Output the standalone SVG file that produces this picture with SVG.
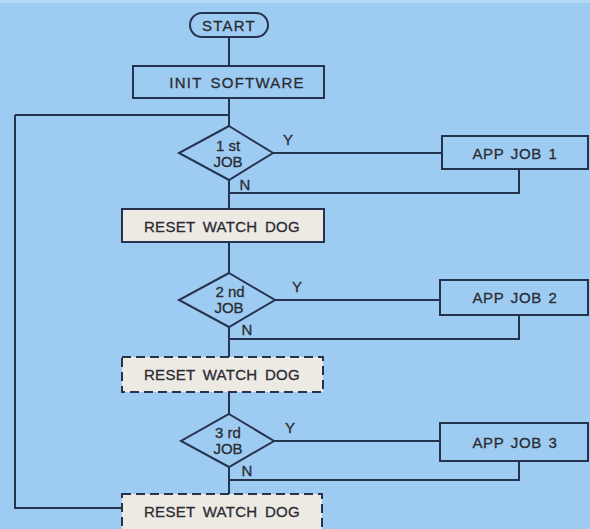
<svg xmlns="http://www.w3.org/2000/svg" width="590" height="529" viewBox="0 0 590 529">
<style>
.ln{fill:none;stroke:#26334f;stroke-width:2}
.box{fill:#9ecbf1;stroke:#26334f;stroke-width:2}
.rst{fill:#ede9e3;stroke:#26334f;stroke-width:2}
.dash{stroke-dasharray:9,5}
.t{font-family:"Liberation Sans",Arial,sans-serif;font-size:15px;fill:#2a2c33;stroke:#2a2c33;stroke-width:0.3;text-anchor:middle;letter-spacing:1.2px;word-spacing:3px}
.r{letter-spacing:0.3px;word-spacing:3px}
.a{letter-spacing:0.6px;word-spacing:2px}
.lb{font-family:"Liberation Sans",Arial,sans-serif;font-size:15px;fill:#2a2c33;stroke:#2a2c33;stroke-width:0.3;text-anchor:middle}
</style>
<rect x="0" y="0" width="590" height="529" fill="#9ecbf1"/>
<rect x="0" y="0" width="590" height="3" fill="#b4d7f4"/>
<g id="connectors">
<path class="ln" d="M229 37V66M229 98V126M15 115H229M15 115V508H122"/>
<path class="ln" d="M273 153H442M519 169V193H229M229 180V209"/>
<path class="ln" d="M229 242V273M275 300H440M519 315V339H229M229 327V357"/>
<path class="ln" d="M229 392V414M274 441H440M519 461V480H229M229 467V494"/>
</g>
<g id="start"><rect x="190" y="13" width="78" height="24" rx="12" class="box"/><text x="229" y="31" class="t">START</text></g>
<g id="init"><rect x="133" y="66" width="191" height="32" class="box"/><text x="237" y="88" class="t">INIT SOFTWARE</text></g>
<g id="job1"><polygon points="229,126 273,153 229,180 179,153" class="box"/><text x="228" y="151" class="lb">1 st</text><text x="228" y="167" class="lb">JOB</text><text x="288" y="145" class="lb">Y</text><text x="245" y="190" class="lb">N</text></g>
<g id="app1"><rect x="442" y="136" width="146" height="33" class="box"/><text x="515" y="159" class="t a">APP JOB 1</text></g>
<g id="reset1"><rect x="122" y="209" width="202" height="33" class="rst"/><text x="222" y="232" class="t r">RESET WATCH DOG</text></g>
<g id="job2"><polygon points="229,273 275,300 229,327 179,300" class="box"/><text x="230" y="297" class="lb">2 nd</text><text x="229" y="313" class="lb">JOB</text><text x="297" y="292" class="lb">Y</text><text x="247" y="335" class="lb">N</text></g>
<g id="app2"><rect x="440" y="280" width="148" height="35" class="box"/><text x="515" y="303" class="t a">APP JOB 2</text></g>
<g id="reset2"><rect x="122" y="357" width="201" height="35" class="rst dash"/><text x="222" y="380" class="t r">RESET WATCH DOG</text></g>
<g id="job3"><polygon points="229,414 274,441 229,467 181,441" class="box"/><text x="228" y="438" class="lb">3 rd</text><text x="228" y="454" class="lb">JOB</text><text x="290" y="433" class="lb">Y</text><text x="247" y="476" class="lb">N</text></g>
<g id="app3"><rect x="440" y="423" width="148" height="38" class="box"/><text x="515" y="448" class="t a">APP JOB 3</text></g>
<g id="reset3"><rect x="122" y="494" width="200" height="40" class="rst dash"/><text x="222" y="517" class="t r">RESET WATCH DOG</text></g>
</svg>
